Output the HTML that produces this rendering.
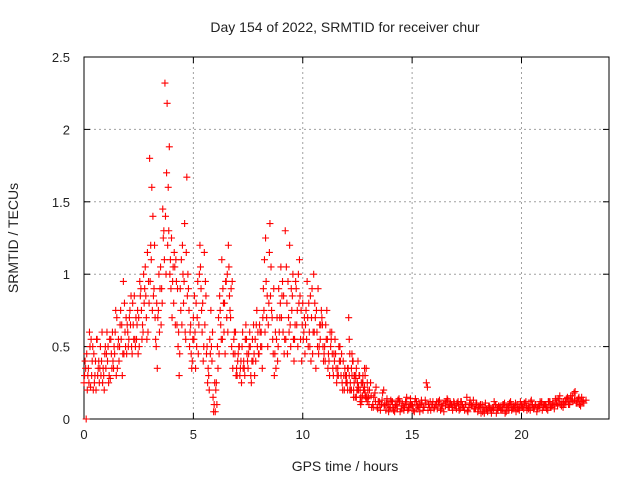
<!DOCTYPE html>
<html><head><meta charset="utf-8"><style>
body{margin:0;background:#fff}
svg{display:block;font-family:"Liberation Sans",sans-serif}
</style></head><body>
<svg id="chart" width="640" height="480" viewBox="0 0 640 480">
<rect width="640" height="480" fill="#fff"/>
<g id="grid"></g>
<g id="axes"></g>
<g id="marks"></g>
<text x="345" y="32" font-size="14" text-anchor="middle" fill="#222">Day 154 of 2022, SRMTID for receiver chur</text>
<text x="345" y="471" font-size="14" text-anchor="middle" fill="#222">GPS time / hours</text>
<text transform="translate(18,238) rotate(-90)" font-size="14" text-anchor="middle" fill="#222">SRMTID / TECUs</text>
</svg>
<script>
const xTicks=[0,5,10,15,20];
const yTicks=[0,0.5,1,1.5,2,2.5];
const yTickLabels=["0","0.5","1","1.5","2","2.5"];
const v1=[0.25,0.0,0.35,0.22,0.5,0.3,0.55,0.25,0.4,0.3,
0.35,0.5,0.28,0.6,0.45,0.7,0.4,0.55,0.95,0.5,
0.6,0.75,0.45,0.85,0.55,0.7,0.9,0.6,1.05,1.15,
1.8,1.6,0.9,0.5,0.75,1.05,1.45,2.32,2.18,1.88,
1.25,0.8,1.1,0.5,0.9,1.2,1.35,1.67,0.75,0.45,
0.7,0.35,0.95,1.2,0.6,1.15,0.45,0.3,0.75,0.15,
0.05,0.5,0.85,1.1,0.6,0.95,1.2,0.7,0.35,0.45,
0.3,0.5,0.25,0.4,0.65,0.35,0.5,0.55,0.3,0.75,
0.45,0.6,0.9,1.25,0.5,1.35,0.7,0.3,0.55,0.9,
1.05,0.6,1.3,0.45,1.2,0.75,0.4,0.9,1.0,0.55,
0.8,0.45,0.95,0.6,0.7,1.0,0.35,0.9,0.55,0.65,
0.5,0.75,0.4,0.55,0.3,0.45,0.35,0.5,0.25,0.2,
0.3,0.7,0.2,0.4,0.15,0.25,0.3,0.12,0.2,0.35,
0.15,0.25,0.1,0.18,0.08,0.12,0.1,0.2,0.06,0.1,
0.08,0.12,0.05,0.1,0.14,0.07,0.09,0.12,0.06,0.1,
0.1,0.05,0.12,0.08,0.1,0.06,0.13,0.22,0.08,0.1,
0.07,0.1,0.12,0.06,0.09,0.11,0.14,0.08,0.1,0.12,
0.09,0.12,0.07,0.1,0.06,0.15,0.08,0.1,0.13,0.07,
0.05,0.08,0.1,0.04,0.07,0.09,0.06,0.08,0.1,0.07,
0.08,0.06,0.1,0.05,0.09,0.12,0.07,0.08,0.1,0.06,
0.1,0.07,0.12,0.09,0.06,0.1,0.08,0.05,0.09,0.11,
0.08,0.1,0.06,0.12,0.09,0.07,0.11,0.14,0.1,0.08,
0.12,0.15,0.1,0.13,0.18,0.11,0.14,0.09,0.12];
const v2=[0.4,0.2,0.6,0.3,0.45,0.2,0.35,0.5,0.25,0.45,
0.6,0.3,0.45,0.35,0.75,0.5,0.65,0.3,0.8,0.45,
0.55,0.85,0.65,0.5,0.75,0.95,0.55,0.8,0.7,0.95,
1.2,1.4,0.7,0.35,0.6,0.9,1.3,1.0,1.6,1.1,
0.95,1.05,0.65,0.3,1.1,0.8,0.55,1.0,0.6,0.4,
0.85,0.5,0.65,0.9,0.4,0.95,0.25,0.55,0.4,0.1,
0.25,0.7,0.65,0.9,0.45,1.0,0.85,0.5,0.55,0.3,
0.45,0.35,0.6,0.3,0.45,0.5,0.25,0.65,0.4,0.6,
0.6,0.35,1.1,0.7,0.8,1.05,0.45,0.6,0.4,0.7,
0.85,0.45,1.05,0.7,0.5,1.0,0.65,0.75,1.1,0.4,
0.6,0.75,0.5,0.85,0.45,0.8,0.6,0.5,0.75,0.4,
0.65,0.35,0.6,0.45,0.4,0.25,0.5,0.3,0.4,0.3,
0.2,0.45,0.3,0.25,0.35,0.2,0.15,0.3,0.18,0.25];
const v3=[0.35,0.2,0.45,0.3,0.15,0.22,0.1,0.25,0.3,0.12,
0.2,0.08,0.15,0.22,0.12,0.06,0.18,0.1,0.14,0.07,
0.12,0.06,0.09,0.13,0.05,0.11,0.08,0.15,0.07,0.1,
0.06,0.14,0.09,0.05,0.11,0.08,0.25,0.1,0.06,0.12,
0.1,0.07,0.13,0.09,0.05,0.12,0.08,0.11,0.06,0.09,
0.11,0.06,0.12,0.08,0.1,0.05,0.13,0.09,0.07,0.11,
0.09,0.04,0.07,0.11,0.05,0.08,0.06,0.12,0.04,0.09,
0.06,0.1,0.04,0.08,0.11,0.06,0.09,0.05,0.07,0.12,
0.08,0.11,0.06,0.09,0.13,0.07,0.1,0.08,0.12,0.06,
0.1,0.07,0.12,0.08,0.11,0.14,0.09,0.16,0.12,0.1,
0.14,0.1,0.16,0.12,0.19,0.13,0.1,0.15,0.11,0.13];
const v4=[0.3,0.45,0.25,0.55,0.2,0.4,0.3,0.35,0.6,0.2,
0.45,0.25,0.55,0.4,0.6,0.35,0.5,0.65,0.45,0.7,
0.5,0.65,0.8,0.55,0.65,0.5,0.75,1.0,0.85,0.6,
0.95,0.75,1.2,0.8,1.0,0.65,1.25,1.4,1.2,1.0,
0.7,1.15,0.95,0.6,0.75,1.0,0.6,0.85,0.5,0.35,
0.55,0.8,0.45,1.05,0.8,0.65,0.5,0.2,0.5,0.05,
0.2,0.35,0.75,0.55,0.8,0.7,1.05,0.9,0.45,0.6,
0.4,0.3,0.5,0.35,0.55,0.45,0.3,0.4,0.55,0.5,
0.65,0.5,0.75,0.95,0.65,0.85,0.55,0.45,0.7,0.6,
0.7,0.85,0.55,0.95,0.65,0.85,0.55,0.65,0.8,0.75,
0.55,0.65,0.7,0.5,0.9,0.6,0.75,0.45,0.65,0.5,
0.4,0.55,0.3,0.6,0.45,0.35,0.3,0.4,0.2,0.35,
0.25,0.55,0.35,0.2,0.3,0.4,0.2,0.25,0.35,0.15];
const v5=[0.25,0.3,0.2,0.15,0.28,0.2,0.12,0.16,0.22,0.14,
0.1,0.16,0.08,0.12,0.07,0.1,0.13,0.09,0.11,0.05,
0.13,0.08,0.1,0.07,0.12,0.09,0.06,0.11,0.08,0.14,
0.09,0.12,0.07,0.1,0.13,0.08,0.11,0.06,0.12,0.1,
0.08,0.12,0.1,0.07,0.11,0.09,0.13,0.1,0.08,0.11,
0.07,0.09,0.12,0.08,0.1,0.06,0.11,0.09,0.07,0.1,
0.07,0.1,0.05,0.08,0.06,0.09,0.04,0.07,0.1,0.06,
0.09,0.07,0.11,0.08,0.06,0.1,0.08,0.11,0.07,0.09,
0.08,0.11,0.09,0.07,0.12,0.08,0.1,0.07,0.09,0.12,
0.1,0.09,0.12,0.08,0.11,0.1,0.13,0.11,0.09,0.12,
0.11,0.14,0.12,0.16,0.13,0.11,0.15,0.12,0.13];
const v6=[0.35,0.3,0.5,0.4,0.25,0.55,0.4,0.3,0.35,0.5,
0.4,0.55,0.35,0.5,0.3,0.55,0.75,0.45,0.6,0.65,
0.7,0.5,0.55,0.7,0.45,0.85,0.65,0.9,0.55,0.8,
1.1,0.85,0.55,0.7,0.9,0.8,1.1,1.7,1.3,0.9,
1.05,0.65,0.9,0.45,0.65,0.95,1.15,0.9,0.65,0.55,
0.6,0.7,1.0,0.75,0.5,0.85,0.35,0.45,0.6,0.25,
0.1,0.45,0.55,0.8,0.95,0.6,0.75,0.95,0.6,0.35,
0.5,0.4,0.35,0.55,0.4,0.6,0.4,0.45,0.65,0.45,
0.5,0.7,0.6,0.85,1.15,0.75,0.9,0.35,0.5,0.8,
0.95,0.55,0.8,0.6,0.9,0.55,0.95,0.5,0.85,0.65,
0.7,0.55,0.8,0.4,0.6,0.7,0.5,0.65,0.7,0.45,
0.55,0.45,0.5,0.35,0.55,0.3,0.4,0.45,0.3,0.25,
0.35,0.25,0.4,0.3,0.2,0.3,0.25,0.2,0.15,0.2];
const t1Start=0, t2Start=0.05, t3Start=12.05, t4Start=0.025, t5Start=12.025, t6Start=0.075, step=0.1;
const L=84,R=609,T=57,B=419,XMAX=24,YMAX=2.5;
const sx=v=>L+v/XMAX*(R-L), sy=v=>B-v/YMAX*(B-T);
const NS="http://www.w3.org/2000/svg";
function mk(tag,attrs,parent){const e=document.createElementNS(NS,tag);for(const k in attrs)e.setAttribute(k,attrs[k]);parent.appendChild(e);return e;}
const grid=document.getElementById('grid'),axes=document.getElementById('axes'),marks=document.getElementById('marks');
xTicks.forEach((v,i)=>{const x=sx(v);
 if(v>0){const g=mk('line',{x1:x,x2:x,y1:T,y2:B,stroke:'#a0a0a0','stroke-dasharray':'2,3'},grid);
 }
 mk('line',{x1:x,x2:x,y1:B,y2:B-6,stroke:'#000'},axes);mk('line',{x1:x,x2:x,y1:T,y2:T+6,stroke:'#000'},axes);
 const t=mk('text',{x:x,y:B+20,'font-size':13,'text-anchor':'middle',fill:'#222'},axes);t.textContent=String(v);
 });
yTicks.forEach((v,i)=>{const y=sy(v);
 if(v>0&&v<YMAX){const g=mk('line',{x1:L,x2:R,y1:y,y2:y,stroke:'#a0a0a0','stroke-dasharray':'2,3'},grid);
 }
 mk('line',{x1:L,x2:L+6,y1:y,y2:y,stroke:'#000'},axes);mk('line',{x1:R,x2:R-6,y1:y,y2:y,stroke:'#000'},axes);
 const t=mk('text',{x:L-14,y:y+5,'font-size':13,'text-anchor':'end',fill:'#222'},axes);t.textContent=yTickLabels[i];
 });
const fr=mk('rect',{x:L,y:T,width:R-L,height:B-T,fill:'none',stroke:'#000','stroke-width':1},axes);

function plot(arr,t0,col){let d='';arr.forEach((v,i)=>{const x=sx(t0+i*step),y=sy(v);d+=`M${x-3.5},${y}H${x+3.5}M${x},${y-3.5}V${y+3.5}`;});
 const p=mk('path',{d:d,stroke:col,'stroke-width':1.1,fill:'none'},marks);
 }
plot(v4,t4Start,'#ff0000');plot(v2,t2Start,'#ff0000');plot(v6,t6Start,'#ff0000');plot(v3,t3Start,'#ff0000');plot(v5,t5Start,'#ff0000');plot(v1,t1Start,'#ff0000');
</script>
</body></html>
